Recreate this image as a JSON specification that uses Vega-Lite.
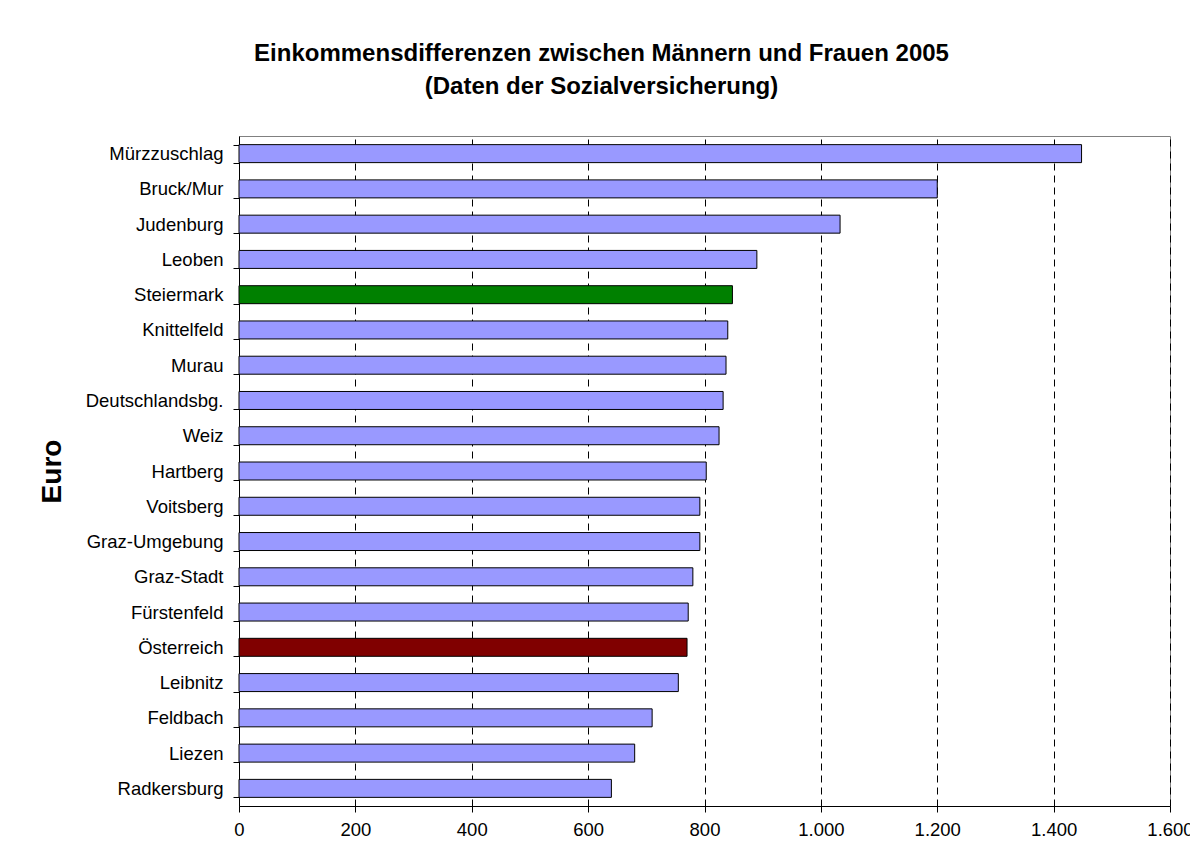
{
  "$schema": "https://vega.github.io/schema/vega-lite/v6.json",
  "width": 931,
  "height": 670,
  "autosize": {"type": "none"},
  "padding": {"left": 239, "top": 136, "right": 20, "bottom": 43},
  "background": "white",
  "title": {
    "text": ["Einkommensdifferenzen zwischen Männern und Frauen 2005", "(Daten der Sozialversicherung)"],
    "font": "Liberation Sans",
    "fontSize": 24,
    "fontWeight": "bold",
    "color": "black",
    "anchor": "middle",
    "dx": -103,
    "baseline": "bottom",
    "lineHeight": 33,
    "offset": 4
  },
  "config": {
    "view": {"stroke": "#808080", "strokeWidth": 1},
    "font": "Liberation Sans"
  },
  "data": {
    "values": [
      {"Bezirk": "Mürzzuschlag", "Euro": 1448, "Typ": "Bezirk"},
      {"Bezirk": "Bruck/Mur", "Euro": 1200, "Typ": "Bezirk"},
      {"Bezirk": "Judenburg", "Euro": 1033, "Typ": "Bezirk"},
      {"Bezirk": "Leoben", "Euro": 890, "Typ": "Bezirk"},
      {"Bezirk": "Steiermark", "Euro": 848, "Typ": "Steiermark"},
      {"Bezirk": "Knittelfeld", "Euro": 840, "Typ": "Bezirk"},
      {"Bezirk": "Murau", "Euro": 837, "Typ": "Bezirk"},
      {"Bezirk": "Deutschlandsbg.", "Euro": 832, "Typ": "Bezirk"},
      {"Bezirk": "Weiz", "Euro": 825, "Typ": "Bezirk"},
      {"Bezirk": "Hartberg", "Euro": 803, "Typ": "Bezirk"},
      {"Bezirk": "Voitsberg", "Euro": 792, "Typ": "Bezirk"},
      {"Bezirk": "Graz-Umgebung", "Euro": 792, "Typ": "Bezirk"},
      {"Bezirk": "Graz-Stadt", "Euro": 780, "Typ": "Bezirk"},
      {"Bezirk": "Fürstenfeld", "Euro": 772, "Typ": "Bezirk"},
      {"Bezirk": "Österreich", "Euro": 770, "Typ": "Österreich"},
      {"Bezirk": "Leibnitz", "Euro": 755, "Typ": "Bezirk"},
      {"Bezirk": "Feldbach", "Euro": 710, "Typ": "Bezirk"},
      {"Bezirk": "Liezen", "Euro": 680, "Typ": "Bezirk"},
      {"Bezirk": "Radkersburg", "Euro": 640, "Typ": "Bezirk"}
    ]
  },
  "mark": {"type": "bar", "stroke": "black", "strokeWidth": 1},
  "encoding": {
    "y": {
      "field": "Bezirk",
      "type": "nominal",
      "sort": null,
      "scale": {"paddingInner": 0.49, "paddingOuter": 0.245},
      "axis": {
        "title": "Euro",
        "titleFont": "Liberation Sans",
        "titleFontSize": 28,
        "titleFontWeight": "bold",
        "titleColor": "black",
        "titleX": -187,
        "titleAngle": 270,
        "titleAlign": "center",
        "titleBaseline": "middle",
        "labelFontSize": 18.5,
        "labelColor": "black",
        "labelPadding": 10,
        "ticks": true,
        "tickBand": "extent",
        "tickSize": 6,
        "tickColor": "black",
        "domainColor": "black",
        "domainWidth": 1,
        "grid": false
      }
    },
    "x": {
      "field": "Euro",
      "type": "quantitative",
      "scale": {"domain": [0, 1600], "nice": false},
      "axis": {
        "title": null,
        "values": [0, 200, 400, 600, 800, 1000, 1200, 1400, 1600],
        "labelExpr": "replace(format(datum.value, ','), ',', '.')",
        "labelFontSize": 18.5,
        "labelColor": "black",
        "labelPadding": 8,
        "labelFlush": false,
        "labelOverlap": false,
        "tickSize": 6,
        "tickColor": "black",
        "domainColor": "black",
        "grid": true,
        "gridColor": "black",
        "gridDash": [7, 5],
        "gridWidth": 1
      }
    },
    "color": {
      "field": "Typ",
      "type": "nominal",
      "scale": {"domain": ["Bezirk", "Steiermark", "Österreich"], "range": ["#9999FF", "#008000", "#800000"]},
      "legend": null
    }
  }
}
